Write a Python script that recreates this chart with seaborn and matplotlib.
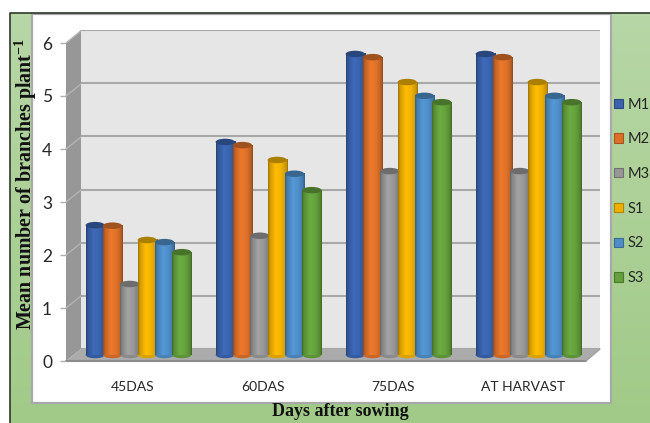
import numpy as np
import pandas as pd
import matplotlib
matplotlib.use('Agg')
import matplotlib.pyplot as plt
from matplotlib.colors import to_rgb
from matplotlib.patches import Ellipse, Polygon, Rectangle
from matplotlib.transforms import ScaledTranslation
import seaborn as sns

# --- Data ---
stages = ['45DAS', '60DAS', '75DAS', 'AT HARVAST']
treatments = ['M1', 'M2', 'M3', 'S1', 'S2', 'S3']
m1 = [2.45, 4.02, 5.68, 5.68]
m2 = [2.44, 3.96, 5.62, 5.62]
m3 = [1.34, 2.25, 3.47, 3.47]
s1 = [2.17, 3.68, 5.15, 5.15]
s2 = [2.13, 3.42, 4.89, 4.89]
s3 = [1.94, 3.11, 4.77, 4.77]
colors = ['#3a63ad', '#dd7029', '#979797', '#eeb000', '#4e8dc7', '#64a03c']
y_ticks = [0, 1, 2, 3, 4, 5, 6]

df = pd.DataFrame({'M1': m1, 'M2': m2, 'M3': m3, 'S1': s1, 'S2': s2, 'S3': s3}, index=stages)
df = df.reset_index(names='stage').melt(id_vars='stage', var_name='treatment', value_name='branches')

sns.set_theme(style='white')
plt.rcParams['font.family'] = ['Lato', 'DejaVu Sans']
plt.rcParams['mathtext.fontset'] = 'custom'
plt.rcParams['mathtext.bf'] = 'Liberation Serif:bold'

W, H = 650, 423
UNIT = 53.0  # pixels per y unit


def box(left, top, right, bottom):
    return [left / W, 1 - bottom / H, (right - left) / W, (bottom - top) / H]


fig = plt.figure(figsize=(6.5, 4.23), dpi=100, facecolor='white')

# --- Frame and panel, in pixel coordinates ---
bg = fig.add_axes([0, 0, 1, 1], zorder=0)
bg.set_xlim(0, W)
bg.set_ylim(H, 0)
bg.axis('off')
shade = np.linspace(0, 1, 100)[:, None, None]
panel = (1 - shade) * np.array(to_rgb('#b7d7a6')) + shade * np.array(to_rgb('#a1ca88'))
bg.imshow(panel, extent=[10, W, H, 13], aspect='auto', zorder=1)
bg.set_xlim(0, W)
bg.set_ylim(H, 0)
bg.plot([10, 10, W], [H, 13, 13], color='#30382c', lw=1.2, zorder=3)
bg.add_patch(Rectangle((32, 14), 579, 389, fc='white', ec='#a9a9a9', lw=1.6, zorder=2))

# side wall and floor of the 3D box
bg.add_patch(Polygon([(66, 43), (81, 30), (81, 349), (66, 361)], fc='#979797', ec='none', zorder=3))
bg.add_patch(Polygon([(66, 361), (81, 349), (600, 349), (586, 361)], fc='#ababab', ec='none', zorder=3))
bg.plot([66, 586], [361, 361], color='#8c8c8c', lw=1.5, zorder=4)
bg.plot([586, 600], [361, 349], color='#a0a0a0', lw=1, zorder=4)

# --- Back wall ---
wall = fig.add_axes(box(81, 30, 600, 349), zorder=1)
wall.set_facecolor('#e6e6e6')
wall.set_ylim(0, 6)
wall.set_xticks([])
wall.set_yticks(y_ticks)
wall.set_yticklabels([])
wall.tick_params(left=False)
wall.grid(axis='y', color='#a8a8a8', lw=1.5)
sns.despine(ax=wall, left=True, bottom=True, right=True, top=True)
for v in y_ticks[1:]:
    bg.plot([66, 81], [361 - v * UNIT, 349 - v * UNIT], color='#b4b4b4', lw=1, zorder=4)

# --- Front value axis ---
front = fig.add_axes(box(66, 43, 70, 361), zorder=2)
front.patch.set_alpha(0)
front.set_ylim(0, 6)
front.set_xticks([])
front.set_yticks(y_ticks)
front.tick_params(axis='y', length=4, width=1, color='#b0b0b0', labelsize=12.5, labelcolor='#262626', pad=6, left=True)
sns.despine(ax=front, left=True, bottom=True)
front.set_ylabel('')

# --- Bars ---
ax = fig.add_axes(box(73.5, 25, 593.5, 355), zorder=3)
ax.patch.set_alpha(0)
sns.barplot(data=df, x='stage', y='branches', hue='treatment', order=stages, hue_order=treatments,
            palette=colors, width=0.8, gap=0, saturation=1, ax=ax, legend=True)
ax.set_xlim(-0.5, 3.5)
ax.set_ylim(0, 330 / UNIT)
sns.despine(ax=ax, left=True, bottom=True)
ax.set_yticks([])
ax.set_xlabel('')
ax.set_ylabel('')
ax.tick_params(axis='x', length=0, labelsize=10, labelcolor='#262626', pad=19)
# category labels sit a little left of the bar groups
for tick_label in ax.get_xticklabels():
    tick_label.set_transform(tick_label.get_transform() + ScaledTranslation(-5.5 / 100, 0, fig.dpi_scale_trans))

profile = np.interp(np.linspace(0, 1, 40), [0, 0.1, 0.4, 0.7, 0.92, 1], [0.68, 0.88, 1.08, 1.0, 0.84, 0.66])
for n, (container, name) in enumerate(zip(ax.containers, treatments)):
    rgb = np.array(to_rgb(colors[n]))
    for bar in container:
        w = bar.get_width() * 1.1
        x = bar.get_x() - bar.get_width() * 0.05
        h = bar.get_height()
        bar.set_visible(False)
        z = 3 + n
        cyl = np.clip(profile[None, :, None] * rgb, 0, 1)
        ax.add_patch(Ellipse((x + w / 2, 0), w, 6.5 / UNIT, fc=rgb * 0.92, ec='none', zorder=z, clip_on=False))
        ax.imshow(cyl, extent=[x, x + w, 0, h], aspect='auto', zorder=z, clip_on=False)
        ax.add_patch(Ellipse((x + w / 2, h), w, 6.5 / UNIT, fc=rgb * 0.72, ec='none', zorder=z, clip_on=False))
ax.set_xlim(-0.5, 3.5)
ax.set_ylim(0, 330 / UNIT)

# --- Legend ---
sns.move_legend(ax, 'upper left', bbox_to_anchor=(614 / W, 1 - 97.5 / H), bbox_transform=fig.transFigure,
                frameon=False, title=None, fontsize=10.5, labelspacing=1.42, handlelength=0.6,
                handleheight=0.6, handletextpad=0.34, borderpad=0, borderaxespad=0)
for handle, c in zip(ax.get_legend().get_patches(), colors):
    handle.set_edgecolor(np.array(to_rgb(c)) * 0.75)
    handle.set_linewidth(0.8)
for label in ax.get_legend().get_texts():
    label.set_color('#262626')

# --- Axis titles ---
fig.text(26 / W, 1 - 184 / H, r'Mean number of branches plant$^{\mathbf{-1}}$', rotation=90, ha='center', va='center',
         family='Liberation Serif', fontweight='bold', fontsize=14.4, color='#111111')
fig.text(340 / W, 1 - 411 / H, 'Days after sowing', ha='center', va='center',
         family='Liberation Serif', fontweight='bold', fontsize=13, color='#111111')

fig.savefig('out.png', dpi=100)
